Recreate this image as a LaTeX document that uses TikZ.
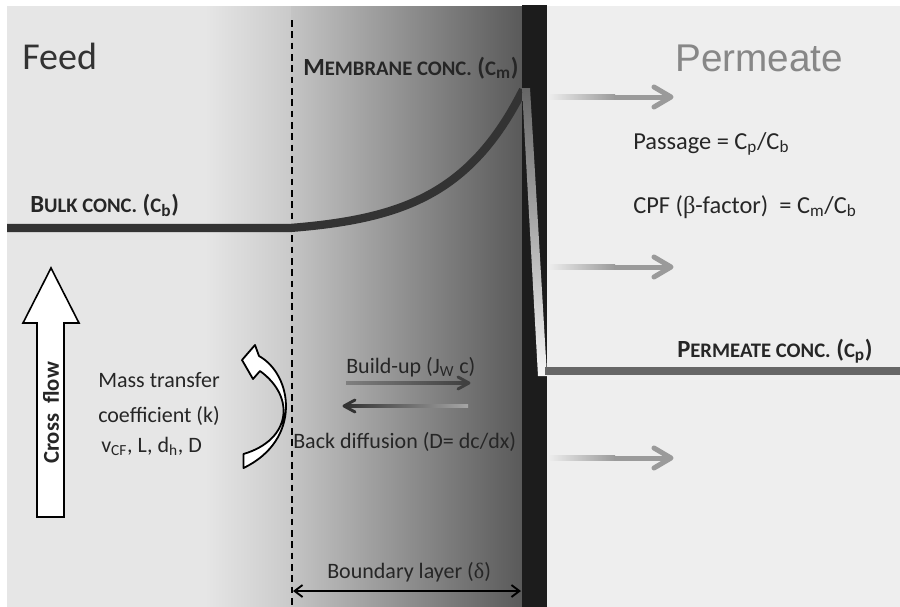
\documentclass[tikz,border=0pt]{standalone}
\usepackage{fontspec}
\setmainfont{Carlito}
\newfontfamily\arialf{Liberation Sans}
\newfontfamily\symf{Liberation Serif}
\usetikzlibrary{arrows.meta}
\definecolor{feedbg}{HTML}{E6E6E6}
\definecolor{permbg}{HTML}{EEEEEE}
\definecolor{membr}{HTML}{1C1C1C}
\definecolor{txt}{HTML}{262626}
\definecolor{curvec}{HTML}{333333}
\definecolor{permline}{HTML}{666666}
\definecolor{flowg}{HTML}{9A9A9A}
\newcommand\smc[1]{{\fontsize{15.5}{17}\selectfont #1}}
\begin{document}
\begin{tikzpicture}[x=0.75pt,y=-0.75pt,
  lab/.style={text=txt, font=\fontsize{16.5}{20}\selectfont, inner sep=0pt, anchor=base west},
  biglab/.style={text=txt, font=\fontsize{18.3}{22}\selectfont, inner sep=0pt, anchor=base west},
  conc/.style={text=txt, font=\bfseries\fontsize{18.5}{20}\selectfont, inner sep=0pt, anchor=base west},
  graychev/.style={flowg, line width=3.75pt, line cap=round, line join=round},
  darkchev/.style={line width=2.2pt, line cap=round, line join=round}
]
\useasboundingbox (0,0) rectangle (900,607);
\fill[white] (0,0) rectangle (900,607);
% backgrounds
\fill[feedbg] (7,6) rectangle (206,607);
\shade[left color=feedbg, right color=black!21] (205,6) rectangle (292,607);
\shade[left color=black!23, right color=black!65] (291,6) rectangle (523,607);
\fill[permbg] (546,6) rectangle (900,607);
\fill[membr] (522,5) rectangle (547,607);
% boundary layer edge
\coordinate (dtop) at (292,20);
\coordinate (dbot) at (292,607);
\draw[black, line width=1.2pt, dash pattern=on 5pt off 3.5pt] (dtop) -- (dbot);
% bulk concentration curve
\coordinate (bulkstart) at (7,228);
\coordinate (bulkbend) at (290,228);
\draw[curvec, line width=6.2pt] (bulkstart) -- (bulkbend) -- plot[domain=0:233, samples=80, variable=\t] ({290+\t},{228-138*(exp(\t/72)-1)/24.4});
% wedge through membrane
\shade[top color=black!60, bottom color=black!4] (522,88) -- (530,88) -- (547,376) -- (538,376) -- cycle;
% permeate concentration line
\coordinate (pstart) at (545,371);
\coordinate (pend) at (900,371);
\draw[permline, line width=6pt] (pstart) -- (pend);
% permeate flow arrows
\foreach \yy/\nm in {97/fa,267/fb,458/fc}{
  \shade[left color=permbg, right color=flowg] (548,\yy-2.5) rectangle (615,\yy+2.5);
  \fill[flowg] (614,\yy-2.5) rectangle (668,\yy+2.5);
  \coordinate (\nm tip) at (671,\yy);
  \draw[graychev] (654,\yy-10) -- (\nm tip) -- (654,\yy+10);
}
% texts
\node[anchor=base west, inner sep=0pt, font=\fontsize{28.5}{30}\selectfont, text=black!80] (feed) at (22,69) {Feed};
\node[anchor=base west, inner sep=0pt, font=\arialf\fontsize{29}{30}\selectfont, text=black!47] (perm) at (675,71) {Permeate};
\node[conc] (bulk) at (30,212) {B\smc{ULK CONC.} (\smc{C}\textsubscript{b})};
\node[conc] (memc) at (303,75) {M\smc{EMBRANE CONC.} (\smc{C}\textsubscript{m})};
\node[conc] (permc) at (677,357) {P\smc{ERMEATE CONC.} (\smc{C}\textsubscript{p})};
\node[biglab] (pass) at (633,149) {Passage = C\textsubscript{p}/C\textsubscript{b}};
\node[biglab] (cpf) at (633,213) {CPF ({\symf β}-factor)~ = C\textsubscript{m}/C\textsubscript{b}};
\node[lab] (mt1) at (98,387) {Mass transfer};
\node[lab] (mt2) at (98,422) {coefficient (k)};
\node[lab] (mt3) at (101,452) {v\textsubscript{CF}, L, d\textsubscript{h}, D};
\node[lab] (bu) at (346,373) {Build-up (J\textsubscript{W} c)};
\node[lab] (bd) at (293,448) {Back diffusion (D= dc/dx)};
\node[lab] (bl) at (327,578) {Boundary layer ({\symf δ})};
% cross flow arrow
\draw[line width=1.2pt, fill=white, line join=miter] (37,517) -- (37,323) -- (23,323) -- (51,268) -- (79,323) -- (64,323) -- (64,517) -- cycle;
\node[rotate=90, inner sep=0pt, text=txt, font=\bfseries\fontsize{17}{20}\selectfont] (cf) at (51,413) {Cross\ \ flow};
% curved mass-transfer arrow
\draw[line width=1.35pt, fill=white, line join=round]
  (242,360) -- (255,345) -- (259,356)
  .. controls (293,375) and (302,440) .. (243.5,468)
  -- (243.5,454)
  .. controls (291,440) and (296,397) .. (260,371)
  -- (253,379) -- cycle;
% build-up arrow
\coordinate (bus) at (346,383);
\coordinate (bue) at (469,383);
\shade[left color=black!50, right color=black!75] (346,381.5) rectangle (466,384.5);
\draw[darkchev, black!75] (458,377) -- (bue) -- (458,389);
% back diffusion arrow
\coordinate (bds) at (468,406);
\coordinate (bde) at (344,406);
\shade[left color=black!80, right color=black!35] (346,404.5) rectangle (468,407.5);
\draw[darkchev, black!80] (355,400) -- (bde) -- (355,412);
% boundary layer arrow
\coordinate (bla) at (293,591);
\coordinate (blb) at (521,591);
\draw[{Straight Barb[length=6pt,width=9pt]}-{Straight Barb[length=6pt,width=9pt]}, line width=1.4pt] (bla) -- (blb);
\end{tikzpicture}
\end{document}
